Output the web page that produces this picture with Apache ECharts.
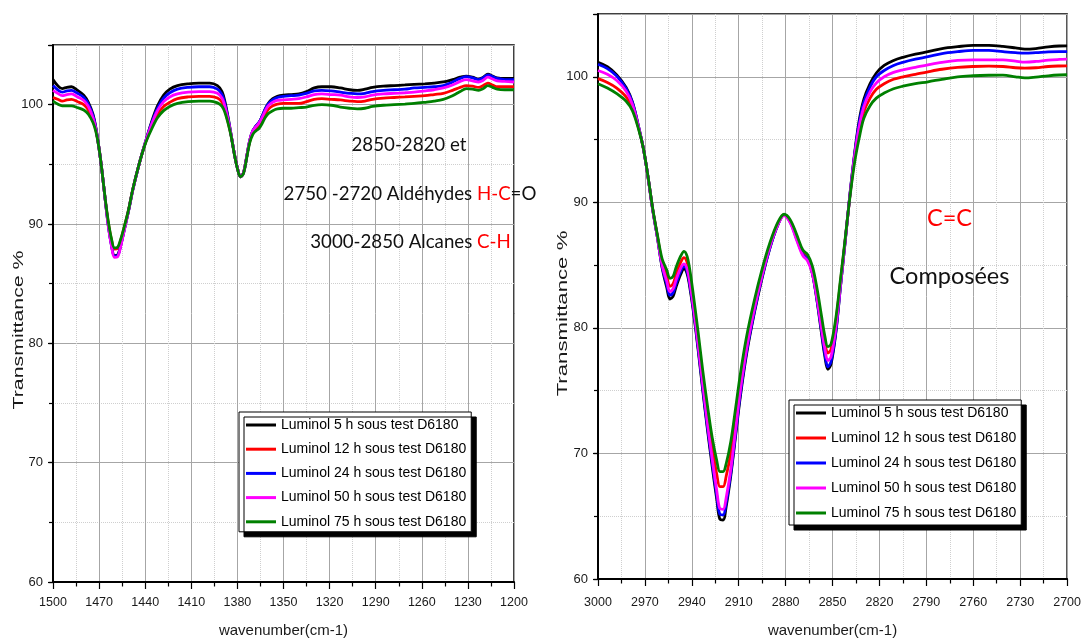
<!DOCTYPE html>
<html>
<head>
<meta charset="utf-8">
<title>Spectres IR - Luminol sous test D6180</title>
<script src="https://cdn.jsdelivr.net/npm/echarts@6/dist/echarts.min.js"></script>
<style>
  html, body { margin: 0; padding: 0; background: #ffffff; }
  #chart { width: 1084px; height: 643px; }
</style>
</head>
<body>
<div id="chart"></div>
<script>
// ---- Left panel: 1500-1200 cm-1 ----
const leftWavenumber = [1500,1497,1494,1491,1488,1484,1480,1477,1474,1472,1470,1468,1466,1464,1462,1460,1458,1456,1454,1451,1448,1444,1440,1436,1432,1428,1424,1419,1412,1405,1398,1393,1390,1388,1386,1384,1382,1380,1378,1376,1374,1372,1370,1368,1366,1364,1362,1360,1357,1354,1350,1345,1340,1335,1330,1325,1319,1313,1307,1302,1297,1292,1285,1278,1271,1265,1258,1252,1246,1240,1235,1231,1227,1223,1220,1217,1214,1211,1206,1200];
const left5h = [102.1,101.6,101.35,101.45,101.5,101.2,100.8,100.2,99.2,98.0, 96.3,94.3,92.0,89.9,88.3,87.35,87.4,88.2,89.3,91.0, 92.9,95.0,96.8,98.5,99.9,100.8,101.3,101.6,101.75,101.8, 101.8,101.6,101.1,100.2,98.9,97.4,95.9,94.7,93.95,94.3, 95.6,97.0,97.8,98.2,98.5,99.0,99.6,100.1,100.5,100.7, 100.8,100.85,100.9,101.1,101.4,101.5,101.5,101.4,101.25,101.2, 101.3,101.45,101.55,101.6,101.65,101.7,101.75,101.8,101.9,102.1, 102.3,102.4,102.3,102.15,102.3,102.55,102.4,102.25,102.2,102.2];
const left12h = [100.6,100.45,100.3,100.4,100.45,100.25,100.0,99.55,98.7,97.8, 96.3,94.3,92.05,90.1,88.7,87.9,87.95,88.6,89.55,91.1, 92.95,95.0,96.75,98.1,99.2,99.85,100.2,100.5,100.65,100.7, 100.7,100.55,100.2,99.5,98.5,97.35,95.9,94.7,93.95,94.3, 95.6,96.9,97.7,98.0,98.3,98.7,99.2,99.6,99.9,100.05, 100.1,100.1,100.1,100.25,100.45,100.5,100.45,100.4,100.3,100.25, 100.3,100.45,100.55,100.6,100.65,100.7,100.75,100.85,100.95,101.2, 101.45,101.6,101.55,101.45,101.6,101.8,101.65,101.5,101.5,101.5];
const left24h = [101.6,101.25,101.05,101.15,101.2,100.95,100.6,100.05,99.1,97.95, 96.3,94.3,92.0,89.85,88.25,87.3,87.35,88.15,89.3,91.0, 92.9,95.0,96.8,98.4,99.7,100.55,101.0,101.3,101.45,101.5, 101.5,101.3,100.85,100.0,98.8,97.4,95.9,94.7,93.95,94.3, 95.6,97.0,97.8,98.2,98.5,99.0,99.6,100.05,100.4,100.6, 100.7,100.75,100.8,100.95,101.15,101.2,101.15,101.05,100.95,100.9, 100.95,101.1,101.2,101.25,101.3,101.4,101.45,101.5,101.6,101.9, 102.2,102.35,102.25,102.1,102.25,102.5,102.35,102.2,102.1,102.1];
const left50h = [101.2,100.95,100.75,100.85,100.9,100.65,100.35,99.85,98.9,97.9, 96.3,94.3,92.0,89.8,88.2,87.2,87.25,88.1,89.25,91.0, 92.9,95.0,96.8,98.3,99.5,100.25,100.65,100.9,101.05,101.1, 101.1,100.95,100.55,99.8,98.7,97.4,95.9,94.7,93.95,94.3, 95.6,97.0,97.8,98.15,98.45,98.9,99.45,99.9,100.2,100.35, 100.4,100.45,100.5,100.65,100.85,100.9,100.85,100.8,100.65,100.6, 100.65,100.8,100.9,100.95,101.0,101.05,101.15,101.25,101.4,101.65, 101.95,102.1,102.0,101.9,102.05,102.3,102.15,102.0,101.95,101.9];
const left75h = [100.3,100.05,99.9,99.9,99.9,99.75,99.55,99.2,98.5,97.7, 96.3,94.3,92.1,90.2,88.8,88.0,88.05,88.7,89.6,91.1, 92.95,95.0,96.7,97.9,98.9,99.5,99.85,100.1,100.25,100.3, 100.3,100.15,99.85,99.3,98.4,97.3,95.85,94.65,93.95,94.25, 95.5,96.8,97.5,97.8,98.0,98.4,98.9,99.25,99.5,99.65, 99.7,99.7,99.75,99.8,99.95,100.0,99.95,99.8,99.7,99.65, 99.7,99.85,99.95,100.0,100.05,100.1,100.2,100.3,100.45,100.75, 101.1,101.35,101.3,101.2,101.35,101.6,101.45,101.3,101.25,101.25];

// ---- Right panel: 3000-2700 cm-1 ----
const rightWavenumber = [3000,2994,2988,2982,2978,2974,2971,2968,2965,2962, 2959,2956,2954,2952,2950,2947,2945,2943,2941,2939, 2936,2933,2930,2927,2924,2922,2920,2918,2915,2912, 2909,2905,2900,2895,2890,2885,2881,2877,2873,2869, 2866,2863,2860,2857,2855,2853,2851,2848,2845,2842, 2839,2836,2833,2830,2826,2822,2817,2811,2805,2797, 2789,2780,2770,2760,2750,2741,2733,2727,2720,2712, 2705,2700];
const right5h = [101.15,100.8,100.15,99.15,98.0,96.0,94.3,92.0,89.4,87.2, 84.8,83.2,82.3,82.5,83.3,84.3,84.7,84.3,83.0,81.3, 78.3,75.0,71.9,69.0,66.3,64.75,64.7,65.8,68.3,71.4, 74.5,77.9,81.2,84.0,86.4,88.2,89.0,88.45,87.2,85.95, 85.5,84.4,82.2,79.5,77.8,76.7,77.1,79.5,83.2,86.8, 90.5,93.8,96.5,98.2,99.45,100.3,100.9,101.3,101.55,101.8, 102.0,102.25,102.4,102.5,102.5,102.42,102.3,102.2,102.25,102.38, 102.45,102.46];
const right12h = [99.85,99.55,99.1,98.4,97.5,95.9,94.3,92.0,89.45,87.3, 85.2,84.1,83.3,83.5,84.3,85.25,85.6,85.2,83.9,82.1, 79.2,76.0,73.1,70.5,68.3,67.35,67.35,68.2,70.1,72.9, 75.8,78.9,81.9,84.5,86.6,88.3,89.0,88.5,87.3,86.0, 85.65,84.7,82.8,80.4,78.9,78.0,78.3,80.4,83.6,86.9, 90.4,93.4,95.6,97.2,98.3,99.0,99.45,99.8,100.0,100.2, 100.4,100.6,100.75,100.82,100.85,100.82,100.72,100.69,100.72,100.82, 100.86,100.87];
const right24h = [101.0,100.65,100.05,99.05,97.95,96.0,94.3,92.0,89.4,87.2, 84.9,83.45,82.6,82.8,83.55,84.55,84.9,84.5,83.2,81.5, 78.5,75.2,72.1,69.3,66.6,65.15,65.1,66.1,68.5,71.6, 74.7,78.1,81.3,84.1,86.4,88.2,89.0,88.4,87.1,85.85, 85.45,84.4,82.3,79.7,78.0,76.9,77.3,79.6,83.2,86.8, 90.5,93.7,96.3,97.95,99.2,100.0,100.5,100.9,101.15,101.4, 101.6,101.85,102.0,102.1,102.1,102.0,101.92,101.88,101.92,101.98, 102.0,102.0];
const right50h = [100.5,100.2,99.7,98.85,97.8,95.95,94.3,92.0,89.4,87.2, 85.0,83.7,82.9,83.1,83.85,84.8,85.1,84.7,83.4,81.7, 78.7,75.5,72.4,69.6,67.0,65.6,65.55,66.5,68.8,71.9, 75.0,78.3,81.5,84.2,86.5,88.2,88.95,88.35,87.0,85.75, 85.35,84.35,82.4,79.9,78.4,77.4,77.7,79.9,83.3,86.8, 90.4,93.6,96.0,97.6,98.8,99.5,100.0,100.35,100.55,100.75, 100.95,101.15,101.3,101.35,101.35,101.35,101.25,101.17,101.22,101.33, 101.38,101.4];
const right75h = [99.45,99.1,98.65,98.05,97.3,95.8,94.3,92.05,89.5,87.4, 85.5,84.6,83.95,84.1,84.85,85.75,86.1,85.7,84.4,82.6, 79.7,76.6,73.8,71.3,69.4,68.55,68.55,69.2,71.0,73.6, 76.3,79.3,82.2,84.7,86.8,88.4,89.05,88.6,87.45,86.2, 85.85,84.95,83.2,80.9,79.4,78.5,78.7,80.7,83.8,87.0, 90.3,93.1,95.1,96.7,97.7,98.3,98.7,99.05,99.25,99.45, 99.6,99.8,100.0,100.08,100.12,100.13,100.0,99.92,99.98,100.08, 100.14,100.16];

const seriesNames = [
  'Luminol 5 h sous test D6180',
  'Luminol 12 h sous test D6180',
  'Luminol 24 h sous test D6180',
  'Luminol 50 h sous test D6180',
  'Luminol 75 h sous test D6180'
];
const seriesColors = ['#000000', '#ff0000', '#0000ff', '#ff00ff', '#008000'];
const leftValues = [left5h, left12h, left24h, left50h, left75h];
const rightValues = [right5h, right12h, right24h, right50h, right75h];

const SANS = '"Liberation Sans", Arial, sans-serif';
const HUMANIST = 'Lato, "Open Sans", sans-serif';

function pairs(xs, ys) {
  return xs.map(function (x, i) { return [x, ys[i]]; });
}

function makeXAxis(gridIndex, min, max, labelMargin, nameGap) {
  return {
    type: 'value', gridIndex: gridIndex, inverse: true,
    min: min, max: max, interval: 30, z: 1,
    axisLine: { show: true, onZero: false, lineStyle: { color: '#000', width: 2 } },
    axisTick: { show: true, inside: false, length: 7, lineStyle: { color: '#000', width: 1.2 } },
    minorTick: { show: true, splitNumber: 2, length: 4.5, lineStyle: { color: '#000', width: 1.2 } },
    splitLine: { show: true, lineStyle: { color: '#a6a6a6', width: 1, type: 'solid' } },
    minorSplitLine: { show: true, lineStyle: { color: '#cfcfcf', width: 1, type: 'dotted' } },
    axisLabel: {
      margin: labelMargin, color: '#1a1a1a', fontFamily: SANS, fontSize: 12.5,
      formatter: function (v) { return String(v); }
    },
    name: 'wavenumber(cm-1)', nameLocation: 'middle', nameGap: nameGap,
    nameTextStyle: { color: '#1a1a1a', fontFamily: SANS, fontSize: 15 }
  };
}

function makeYAxis(gridIndex) {
  return {
    type: 'value', gridIndex: gridIndex, position: 'left',
    min: 60, max: 105, interval: 10, z: 1,
    axisLine: { show: true, onZero: false, lineStyle: { color: '#000', width: 2 } },
    axisTick: { show: true, inside: false, length: 5, lineStyle: { color: '#000', width: 1.2 } },
    splitLine: { show: true, lineStyle: { color: '#a6a6a6', width: 1, type: 'solid' } },
    axisLabel: {
      margin: 10, color: '#1a1a1a', fontFamily: SANS, fontSize: 13,
      formatter: function (v) { return v % 10 === 0 ? String(v) : ''; }
    }
  };
}

// Half-step ticks and dotted grid lines every 5 %
function makeMinorYAxis(gridIndex) {
  return {
    type: 'value', gridIndex: gridIndex, position: 'left',
    min: 60, max: 105, interval: 5, z: 0,
    axisLine: { show: false, onZero: false },
    axisTick: { show: true, inside: false, length: 4, lineStyle: { color: '#000', width: 1.2 } },
    axisLabel: { show: false },
    splitLine: { show: true, lineStyle: { color: '#cfcfcf', width: 1, type: 'dotted' } }
  };
}

function makeLegend(left, top, gap, padding) {
  return {
    orient: 'vertical', left: left, top: top,
    data: seriesNames,
    icon: 'rect', itemWidth: 30, itemHeight: 3, itemGap: gap,
    padding: padding,
    backgroundColor: '#ffffff', borderColor: '#000000', borderWidth: 1,
    shadowColor: '#000000', shadowOffsetX: 5, shadowOffsetY: 5, shadowBlur: 0.01,
    selectedMode: false,
    textStyle: { color: '#000', fontFamily: SANS, fontSize: 14, lineHeight: 18 }
  };
}

const series = [];
seriesNames.forEach(function (name, i) {
  series.push({
    type: 'line', name: name, xAxisIndex: 0, yAxisIndex: 0,
    data: pairs(leftWavenumber, leftValues[i]),
    smooth: 0.35, symbol: 'none', showSymbol: false, z: 3,
    color: seriesColors[i], lineStyle: { width: 2.8, color: seriesColors[i] }
  });
});
seriesNames.forEach(function (name, i) {
  series.push({
    type: 'line', name: name, xAxisIndex: 1, yAxisIndex: 1,
    data: pairs(rightWavenumber, rightValues[i]),
    smooth: 0.35, symbol: 'none', showSymbol: false, z: 3,
    color: seriesColors[i], lineStyle: { width: 2.8, color: seriesColors[i] }
  });
});

const annotationBlack = { fill: '#111', fontFamily: HUMANIST, fontSize: 18.7 };
const annotationRed = { fill: '#ff0000', fontFamily: HUMANIST, fontSize: 18.7 };

const option = {
  animation: false,
  backgroundColor: '#ffffff',
  grid: [
    { left: 53, top: 45, width: 461, height: 540.7, show: true, borderColor: '#000', borderWidth: 1.5, containLabel: false },
    { left: 598, top: 14, width: 470, height: 567.5, show: true, borderColor: '#000', borderWidth: 1.5, containLabel: false }
  ],
  xAxis: [
    makeXAxis(0, 1200, 1500, 14, 41),
    makeXAxis(1, 2700, 3000, 17, 44)
  ],
  yAxis: [
    makeYAxis(0),
    makeYAxis(1),
    makeMinorYAxis(0),
    makeMinorYAxis(1)
  ],
  legend: [
    makeLegend(239, 412, 6.2, [4, 5, 1, 7]),
    makeLegend(789, 400, 7, [4, 5, 3, 7])
  ],
  series: series,
  graphic: [
    {
      type: 'text', x: 18.5, y: 330, rotation: Math.PI / 2, scaleX: 1.42,
      style: { text: 'Transmittance %', font: '15px "Liberation Sans", Arial, sans-serif', fill: '#1a1a1a', align: 'center', verticalAlign: 'middle' }
    },
    {
      type: 'text', x: 562.5, y: 313.5, rotation: Math.PI / 2, scaleX: 1.48,
      style: { text: 'Transmittance %', font: '15px "Liberation Sans", Arial, sans-serif', fill: '#1a1a1a', align: 'center', verticalAlign: 'middle' }
    },
    {
      type: 'text', x: 409, y: 145, z: 10,
      style: { text: '2850-2820 et', fill: '#111', font: '18.7px ' + HUMANIST, align: 'center', verticalAlign: 'middle' }
    },
    {
      type: 'text', x: 410, y: 193.5, z: 10,
      style: {
        text: '{k|2750 -2720 Aldéhydes }{r|H-C}{k|=O}',
        align: 'center', verticalAlign: 'middle',
        rich: { k: annotationBlack, r: annotationRed }
      }
    },
    {
      type: 'text', x: 410.5, y: 241.5, z: 10,
      style: {
        text: '{k|3000-2850 Alcanes }{r|C-H}',
        align: 'center', verticalAlign: 'middle',
        rich: { k: annotationBlack, r: annotationRed }
      }
    },
    {
      type: 'text', x: 949.5, y: 218, z: 10,
      style: { text: 'C=C', fill: '#ff0000', font: '23.5px ' + HUMANIST, align: 'center', verticalAlign: 'middle' }
    },
    {
      type: 'text', x: 949.5, y: 276, z: 10,
      style: { text: 'Composées', fill: '#111', font: '23.5px ' + HUMANIST, align: 'center', verticalAlign: 'middle' }
    }
  ]
};

const chart = echarts.init(document.getElementById('chart'), null, { renderer: 'canvas' });
chart.setOption(option);
</script>
</body>
</html>
